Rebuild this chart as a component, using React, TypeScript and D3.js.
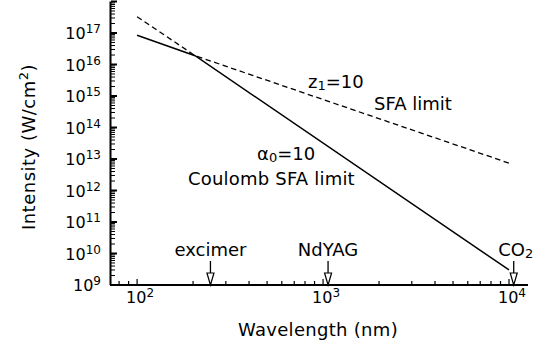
import React from "react"
import * as d3 from "d3"

// wavelengths in nm, intensities in W/cm^2
const sfaWavelength = [100, 205, 10000]
const sfaIntensity = [3.3e17, 1.9e16, 7.4e12]
const coulombWavelength = [100, 205, 10000]
const coulombIntensity = [8.5e16, 1.9e16, 3.0e9]

const laserNames = ["excimer", "NdYAG", "CO"]
const laserSub = ["", "", "2"]
const laserWavelength = [248, 1064, 10600]

const xMajor = [100, 1000, 10000]
const yExponents = [9, 10, 11, 12, 13, 14, 15, 16, 17]

const W = 540
const H = 348
const FONT = "'DejaVu Sans', sans-serif"

export default function App() {
  const x = d3.scaleLog().domain([71.5, 12650]).range([110, 528])
  const y = d3.scaleLog().domain([1e9, 1e18]).range([285, 1.5])

  const line = d3
    .line<[number, number]>()
    .x((d) => x(d[0]))
    .y((d) => y(d[1]))

  const sfa = line(sfaWavelength.map((w, i) => [w, sfaIntensity[i]]))
  const coul = line(coulombWavelength.map((w, i) => [w, coulombIntensity[i]]))

  // minor ticks
  const xTicks: number[] = []
  for (let e = 1; e <= 4; e++) for (let k = 1; k <= 9; k++) {
    const v = k * Math.pow(10, e)
    if (v >= 71.5 && v <= 12650) xTicks.push(v)
  }
  const yTicks: number[] = []
  for (let e = 9; e <= 17; e++) for (let k = 1; k <= 9; k++) yTicks.push(k * Math.pow(10, e))
  yTicks.push(1e18)

  return (
    <svg width={W} height={H} style={{ position: "absolute", left: 0, top: 0, background: "#fff" }} fontFamily={FONT}>
      <rect width={W} height={H} fill="#fff" />
      {/* axes */}
      <line x1={110.5} x2={110.5} y1={1.5} y2={285} stroke="#000" strokeWidth={2} />
      <line x1={110} x2={528} y1={285} y2={285} stroke="#000" strokeWidth={2} />
      {yTicks.map((v, i) => {
        const major = Math.abs(Math.log10(v) - Math.round(Math.log10(v))) < 1e-9
        return (
          <line key={"yt" + i} x1={111} x2={major ? 117 : 115} y1={y(v)} y2={y(v)} stroke="#000" strokeWidth={major ? 2 : 1} />
        )
      })}
      {xTicks.map((v, i) => {
        const major = xMajor.includes(v)
        return (
          <line key={"xt" + i} x1={x(v)} x2={x(v)} y1={285} y2={major ? 279 : 281} stroke="#000" strokeWidth={1.2} />
        )
      })}
      {/* y tick labels */}
      {yExponents.map((e) => (
        <text key={"yl" + e} x={101} y={y(Math.pow(10, e)) + 6} textAnchor="end" fontSize={16} fill="#000">
          10<tspan fontSize={12} dy={-6}>{e}</tspan>
        </text>
      ))}
      {/* x tick labels */}
      {xMajor.map((v) => (
        <text key={"xl" + v} x={x(v) + 3} y={303} textAnchor="middle" fontSize={16} fill="#000">
          10<tspan fontSize={12} dy={-6}>{Math.round(Math.log10(v))}</tspan>
        </text>
      ))}
      {/* axis titles */}
      <text x={318} y={336} textAnchor="middle" fontSize={18} letterSpacing={0.3} fill="#000">
        Wavelength (nm)
      </text>
      <text transform="translate(35,147) rotate(-90)" textAnchor="middle" fontSize={18} letterSpacing={0.5} fill="#000">
        Intensity (W/cm<tspan fontSize={13} dy={-7}>2</tspan><tspan dy={7}>)</tspan>
      </text>
      {/* curves */}
      <path d={sfa || ""} fill="none" stroke="#000" strokeWidth={1.3} strokeDasharray="5.5,3.5" />
      <path d={coul || ""} fill="none" stroke="#000" strokeWidth={1.5} />
      {/* annotations */}
      <text x={308} y={88} fontSize={18} fill="#000">
        z<tspan fontSize={13} dy={2}>1</tspan><tspan dy={-2}>=10</tspan>
      </text>
      <text x={374} y={110} fontSize={18} fill="#000">SFA limit</text>
      <text x={257} y={160} fontSize={18} fill="#000">
        α<tspan fontSize={13} dy={2}>0</tspan><tspan dy={-2}>=10</tspan>
      </text>
      <text x={188} y={185} fontSize={18} letterSpacing={0.2} fill="#000">Coulomb SFA limit</text>
      {/* laser markers */}
      {laserWavelength.map((w, i) => {
        const cx = x(w)
        return (
          <g key={"las" + i}>
            <line x1={cx} x2={cx} y1={261} y2={274} stroke="#000" strokeWidth={1.3} />
            <path d={`M${cx - 3.5},273 L${cx + 3.5},273 L${cx},285 Z`} fill="#fff" stroke="#000" strokeWidth={1.2} />
            <text x={laserSub[i] ? cx + 2 : cx} y={256} textAnchor="middle" fontSize={18} fill="#000">
              {laserNames[i]}
              {laserSub[i] && <tspan fontSize={13} dy={2}>{laserSub[i]}</tspan>}
            </text>
          </g>
        )
      })}
    </svg>
  )
}
